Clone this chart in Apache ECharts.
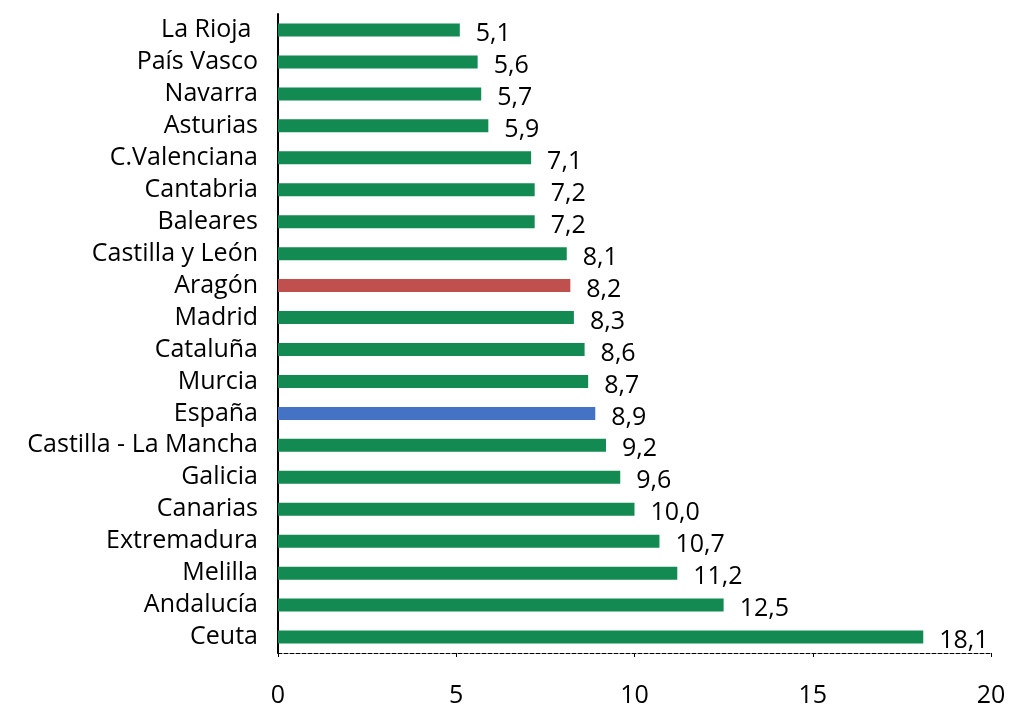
<!DOCTYPE html>
<html>
<head>
<meta charset="utf-8">
<script src="https://cdn.jsdelivr.net/npm/echarts@6/dist/echarts.min.js"></script>
<style>
  html, body { margin: 0; padding: 0; background: #fff; }
  #chart { width: 1010px; height: 705px; }
</style>
</head>
<body>
<div id="chart"></div>
<script>
// comunidades, de arriba abajo
var regiones = ['La Rioja ', 'País Vasco', 'Navarra', 'Asturias', 'C.Valenciana', 'Cantabria', 'Baleares',
    'Castilla y León', 'Aragón', 'Madrid', 'Cataluña', 'Murcia', 'España', 'Castilla - La Mancha',
    'Galicia', 'Canarias', 'Extremadura', 'Melilla', 'Andalucía', 'Ceuta'];
var valores = [5.1, 5.6, 5.7, 5.9, 7.1, 7.2, 7.2, 8.1, 8.2, 8.3, 8.6, 8.7, 8.9, 9.2, 9.6, 10.0, 10.7, 11.2, 12.5, 18.1];
var ejeX = [0, 5, 10, 15, 20];

var VERDE = '#138a52', ROJO = '#c0504d', AZUL = '#4472c4';

var datos = valores.map(function (v, i) {
    var color = VERDE;
    if (regiones[i] === 'Aragón') color = ROJO;
    if (regiones[i] === 'España') color = AZUL;
    return { value: v, itemStyle: { color: color } };
});

var chart = echarts.init(document.getElementById('chart'));
chart.setOption({
    animation: false,
    textStyle: { fontFamily: 'Open Sans' },
    grid: { left: 278, right: 19, top: 14, bottom: 52, outerBoundsMode: 'none', containLabel: false },
    xAxis: {
        type: 'value',
        min: ejeX[0],
        max: ejeX[ejeX.length - 1],
        interval: 5,
        splitLine: { show: false },
        axisLine: { show: true, lineStyle: { color: '#000', width: 1, type: 'dashed' } },
        axisTick: { show: true, length: 6, lineStyle: { color: '#000', type: 'dashed' } },
        axisLabel: { color: '#000', fontSize: 25, margin: 30 }
    },
    yAxis: {
        type: 'category',
        inverse: true,
        data: regiones,
        axisLine: { lineStyle: { color: '#000', width: 2 } },
        axisTick: { length: 8, interval: 0, lineStyle: { color: '#000', width: 2 } },
        axisLabel: { color: '#000', fontSize: 25, margin: 20, interval: 0, hideOverlap: false }
    },
    series: [{
        type: 'bar',
        data: datos,
        barWidth: 13,
        label: {
            show: true,
            position: 'right',
            distance: 16,
            offset: [0, 4],
            color: '#000',
            fontSize: 25,
            formatter: function (p) { return p.value.toFixed(1).replace('.', ','); }
        }
    }]
});
</script>
</body>
</html>
